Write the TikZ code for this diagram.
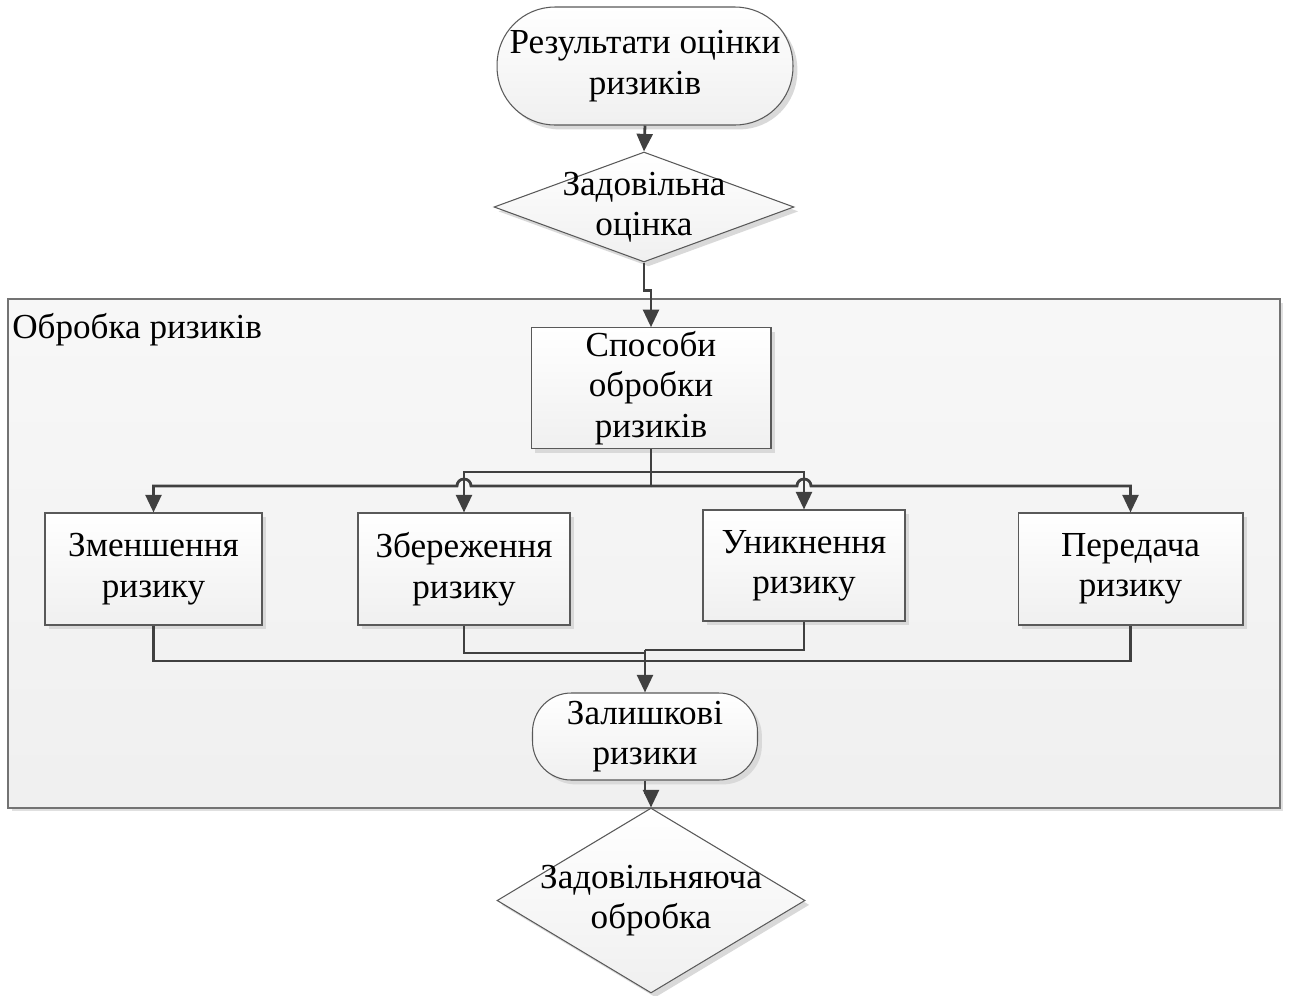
\documentclass[tikz,border=0pt]{standalone}
\usepackage{fontspec}
\setmainfont{Liberation Serif}
\usetikzlibrary{shapes.geometric, shadows, calc, arrows.meta}
\definecolor{LineGray}{RGB}{64, 64, 64}
\definecolor{EdgeGray}{RGB}{89, 89, 89}

\begin{document}
\begin{tikzpicture}[x=0.02cm, y=-0.02cm,
        font=\fontsize{20}{23}\selectfont,
        shadowed/.style={drop shadow={shadow xshift=2.5pt, shadow yshift=-2.5pt,
                         fill=black!15, opacity=1}},
        procbox/.style={rectangle, draw=EdgeGray, line width=0.6pt, top color=white,
                        bottom color=black!6, shadowed, align=center, inner sep=2pt},
        termbox/.style={procbox, rounded corners=#1},
        decbox/.style={diamond, draw=EdgeGray, line width=0.6pt, top color=white,
                       bottom color=black!6, shadowed, inner sep=0pt},
        conn/.style={draw=LineGray, line width=1.6pt, -{Triangle[length=10pt, width=9pt]}},
        plainconn/.style={draw=LineGray, line width=1.2pt}]
    \useasboundingbox (0,0) rectangle (1289,995);

    % Group frame for the treatment stage
    \node[rectangle, draw=black!55, line width=0.8pt, top color=black!3, bottom color=black!6,
          drop shadow={shadow xshift=2pt, shadow yshift=-2pt, fill=black!12, opacity=1},
          minimum width=25.44cm, minimum height=10.18cm] (grp) at (644,553.5) {};
    \node[anchor=north west, inner sep=0pt] (grplbl) at (12,313) {Обробка ризиків};

    % Main flow
    \node[termbox=33pt, minimum width=5.92cm, minimum height=2.36cm] (res) at (645,66)
        {Результати оцінки\\ризиків};
    \node[decbox, minimum width=6cm, minimum height=2.2cm,
          label={[align=center]center:Задовільна\\оцінка}] (ok1) at (644,207) {};
    \node[procbox, minimum width=4.8cm, minimum height=2.22cm] (way) at (651,388)
        {Способи\\обробки\\ризиків};

    % Four ways of treatment
    \node[procbox, minimum width=4.34cm, minimum height=2.24cm] (cut) at (153.5,569)
        {Зменшення\\ризику};
    \node[procbox, minimum width=4.24cm, minimum height=2.24cm] (keep) at (464,569)
        {Збереження\\ризику};
    \node[procbox, minimum width=4.04cm, minimum height=2.22cm] (avoid) at (804,565.5)
        {Уникнення\\ризику};
    \node[procbox, minimum width=4.5cm, minimum height=2.24cm] (pass) at (1130.5,569)
        {Передача\\ризику};

    \node[termbox=22pt, minimum width=4.5cm, minimum height=1.74cm] (rest) at (645,736.5)
        {Залишкові\\ризики};
    \node[decbox, minimum width=6.16cm, minimum height=3.7cm,
          label={[align=center]center:Задовільняюча\\обробка}] (ok2) at (651,900.5) {};

    % Junction points
    \coordinate (jup) at (651,472);
    \coordinate (jlow) at (651,486);
    \coordinate (jbot) at (645,661);
    \coordinate (jin) at (645,650);

    % Connectors
    \draw[conn] (res.south) -- (ok1.north);
    \draw[conn] (ok1.south) -- ++(0,28) -| (way.north);
    \draw[plainconn, line width=1.6pt] (way.south) -- (jlow);
    \draw[conn] (jup) -| (keep.north);
    \draw[conn] (jup) -| (avoid.north);
    \draw[conn] (jlow) -- ($(keep.north |- jlow)+(4pt,0)$)
        arc[start angle=0, end angle=180, radius=4pt] -- (cut.north |- jlow) -- (cut.north);
    \draw[conn] (jlow) -- ($(avoid.north |- jlow)+(-4pt,0)$)
        arc[start angle=180, end angle=0, radius=4pt] -- (pass.north |- jlow) -- (pass.north);

    \draw[plainconn] (cut.south) -- (cut.south |- jbot) -- (pass.south |- jbot) -- (pass.south);
    \draw[plainconn] (keep.south) |- (645,653);
    \draw[plainconn] (avoid.south) |- (jin);
    \draw[conn] (jin) -- (rest.north);
    \draw[conn] (rest.south) -- ++(0,12) -| (ok2.north);
\end{tikzpicture}
\end{document}
